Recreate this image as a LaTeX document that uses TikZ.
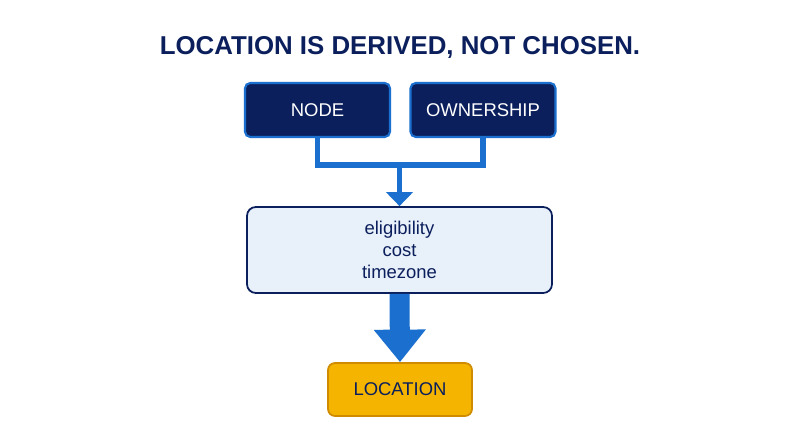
\documentclass[tikz,border=0pt]{standalone}
\usepackage{fontspec}
\setmainfont{Liberation Sans}
\usetikzlibrary{arrows.meta,positioning}
\definecolor{navy}{HTML}{0B1F5C}
\definecolor{flowblue}{HTML}{1A6FCF}
\definecolor{paleblue}{HTML}{E8F0FA}
\definecolor{gold}{HTML}{F5B400}
\definecolor{darkgold}{HTML}{D08C00}
\tikzset{
  inbox/.style={draw=flowblue, line width=1.2pt, fill=navy, rounded corners=3pt,
    minimum width=2.9cm, minimum height=1.08cm, text=white, font=\fontsize{10.5}{12}\selectfont},
  midbox/.style={draw=navy, line width=1pt, fill=paleblue, rounded corners=5pt,
    minimum width=6.1cm, minimum height=1.72cm, align=center, text=navy,
    font=\fontsize{10.5}{12.5}\selectfont},
  outbox/.style={draw=darkgold, line width=1pt, fill=gold, rounded corners=4pt,
    minimum width=2.88cm, minimum height=1.06cm, text=navy, font=\fontsize{10.5}{12}\selectfont},
  feed/.style={draw=flowblue, line width=3.2pt},
}
\begin{document}
\begin{tikzpicture}
    \useasboundingbox[fill=white] (0,0) rectangle (16,8.94);
    % title
    \node[font=\bfseries\fontsize{14.7}{16}\selectfont, text=navy] (title) at (8,8) {LOCATION IS DERIVED, NOT CHOSEN.};
    % inputs
    \node[inbox] (node) at (6.35,6.74) {NODE};
    \node[inbox] (own) at (9.66,6.74) {OWNERSHIP};
    \node[midbox] (mid) at (7.99,3.94) {eligibility\\cost\\timezone};
    \node[outbox] (loc) at (8,1.15) {LOCATION};
    \coordinate (join) at (7.99,5.64);
    % connectors
    \draw[feed, line cap=butt] (node.south) |- (join) -| (own.south);
    \draw[feed, -{Triangle[width=15pt,length=8pt]}] (join) -- (mid.north);
    \draw[flowblue, line width=0.4cm, -{Triangle[width=1cm,length=0.65cm]}] (mid.south) -- (loc.north);
\end{tikzpicture}
\end{document}
